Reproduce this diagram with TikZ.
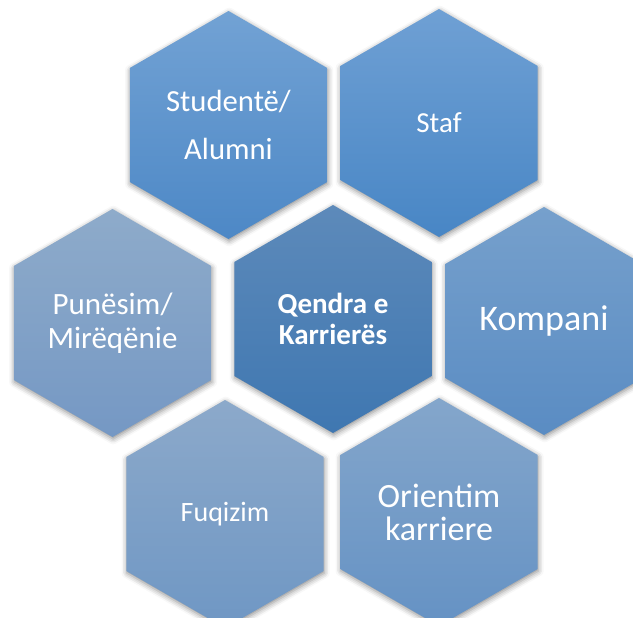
\documentclass[tikz,border=0pt]{standalone}
\usepackage{fontspec}
\setmainfont{Carlito}
\usetikzlibrary{shapes.geometric,shadows.blur}

\definecolor{studTop}{HTML}{72A2D4}
\definecolor{studBot}{HTML}{4D88C6}
\definecolor{stafTop}{HTML}{6FA0D4}
\definecolor{stafBot}{HTML}{4886C5}
\definecolor{qenTop}{HTML}{5D8ABA}
\definecolor{qenBot}{HTML}{3F77B1}
\definecolor{punTop}{HTML}{8EABCA}
\definecolor{punBot}{HTML}{7598C4}
\definecolor{kompTop}{HTML}{76A0CC}
\definecolor{kompBot}{HTML}{5A8CC3}
\definecolor{fuqTop}{HTML}{8CA9CA}
\definecolor{fuqBot}{HTML}{6F97C4}
\definecolor{oriTop}{HTML}{84A6CB}
\definecolor{oriBot}{HTML}{6592C4}

\begin{document}
\begin{tikzpicture}[x=0.75pt,y=-0.75pt,
    hexcell/.style={regular polygon, regular polygon sides=6,
        shape border rotate=30, minimum size=171pt, inner sep=0pt,
        text=white, align=center,
        blur shadow={shadow xshift=0.5pt, shadow yshift=-1.5pt,
            shadow blur radius=4pt, shadow opacity=45}}]
    \clip (0,0) rectangle (633,618);

    % Top row
    \node[hexcell, top color=studTop, bottom color=studBot,
        font=\fontsize{23}{36}\selectfont] (stud) at (228.5,125) {Studentë/\\Alumni};
    \node[hexcell, top color=stafTop, bottom color=stafBot,
        font=\fontsize{21.75}{24}\selectfont] (staf) at (439,123) {Staf};

    % Middle row
    \node[hexcell, top color=punTop, bottom color=punBot,
        font=\fontsize{23.25}{25.5}\selectfont] (pun) at (112.5,323) {Punësim/\\Mirëqënie};
    \node[hexcell, top color=qenTop, bottom color=qenBot,
        font=\bfseries\fontsize{21.75}{23.25}\selectfont] (qen) at (333,319) {Qendra e\\Karrierës};
    \node[hexcell, top color=kompTop, bottom color=kompBot,
        font=\fontsize{27}{30}\selectfont] (komp) at (544,321) {Kompani};

    % Bottom row
    \node[hexcell, top color=fuqTop, bottom color=fuqBot,
        font=\fontsize{21}{24}\selectfont] (fuq) at (225,514) {Fuqizim};
    \node[hexcell, top color=oriTop, bottom color=oriBot,
        font=\fontsize{25.5}{24.75}\selectfont] (ori) at (439,512) {Orientim\\karriere};
\end{tikzpicture}
\end{document}
